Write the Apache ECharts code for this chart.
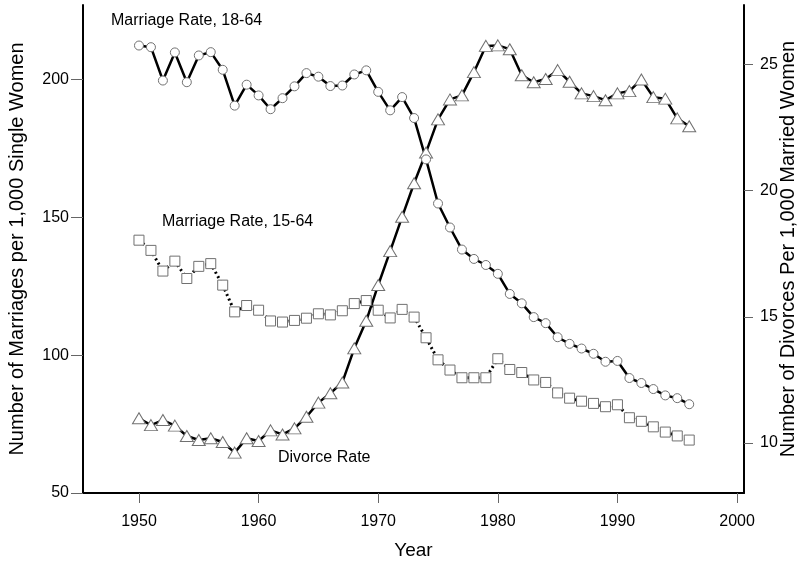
<!DOCTYPE html>
<html>
<head>
<meta charset="utf-8">
<script src="https://cdn.jsdelivr.net/npm/echarts@6/dist/echarts.min.js"></script>
<style>
  html, body { margin: 0; padding: 0; background: #fff; }
  #chart { width: 803px; height: 566px; }
</style>
</head>
<body>
<div id="chart"></div>
<script>
// years 1950 - 1996
var years = []
for (var y = 1950; y <= 1996; y++) years.push(y)

// marriages per 1,000 single women aged 18-64 (left axis)
var marriage1864 = [212.3, 211.7, 199.6, 209.8, 199.0, 208.7, 209.9, 203.5, 190.5, 198.1,
  194.2, 189.2, 193.2, 197.5, 202.3, 201.0, 197.6, 197.8, 201.8, 203.3,
  195.5, 188.8, 193.6, 186.0, 171.0, 155.0, 146.3, 138.3, 134.9, 132.7,
  129.5, 122.2, 118.8, 113.8, 111.6, 106.5, 104.1, 102.4, 100.5, 97.6,
  97.9, 91.7, 89.9, 87.7, 85.4, 84.4, 82.2]

// marriages per 1,000 single women aged 15-64 (left axis)
var marriage1564 = [141.7, 138.0, 130.5, 134.1, 127.8, 132.2, 133.2, 125.4, 115.7, 118.0,
  116.3, 112.4, 112.0, 112.6, 113.4, 115.0, 114.6, 116.1, 118.7, 119.8,
  116.3, 113.5, 116.6, 113.8, 106.3, 98.3, 94.6, 91.8, 91.8, 91.8,
  98.7, 94.8, 93.7, 91.0, 90.1, 86.3, 84.4, 83.3, 82.5, 81.3,
  82.0, 77.3, 76.0, 74.0, 72.1, 70.7, 69.2]

// divorces per 1,000 married women (right axis)
var divorceRate = [10.98, 10.71, 10.91, 10.69, 10.28, 10.12, 10.19, 10.04, 9.62, 10.19,
  10.08, 10.50, 10.34, 10.58, 11.04, 11.60, 11.97, 12.40, 13.75, 14.84,
  16.26, 17.60, 18.96, 20.29, 21.51, 22.82, 23.61, 23.77, 24.69, 25.73,
  25.75, 25.60, 24.57, 24.29, 24.42, 24.77, 24.31, 23.85, 23.74, 23.58,
  23.85, 23.94, 24.40, 23.70, 23.64, 22.86, 22.55]

var xTicks = [1950, 1960, 1970, 1980, 1990, 2000]
var leftTicks = [50, 100, 150, 200]
var rightTicks = [10, 15, 20, 25]

function pairs(vals) {
  return years.map(function (yr, i) { return [yr, vals[i]] })
}

var font = 'Liberation Sans, Arial, sans-serif'
var markerStyle = { color: '#fff', borderColor: '#707070', borderWidth: 1 }
var plain = function (v) { return String(v) }

var chart = echarts.init(document.getElementById('chart'))
chart.setOption({
  animation: false,
  textStyle: { fontFamily: font, color: '#000' },
  grid: { left: 83, right: 59, top: 5, bottom: 73, containLabel: false, outerBoundsMode: 'none' },
  xAxis: {
    type: 'value',
    min: 1945.32,
    max: 2000.58,
    name: 'Year',
    nameLocation: 'middle',
    nameGap: 48,
    nameMoveOverlap: false,
    nameTextStyle: { fontSize: 19, color: '#000', fontFamily: font },
    axisLine: { onZero: false, lineStyle: { color: '#000', width: 2 } },
    axisTick: { customValues: xTicks, length: 10, lineStyle: { color: '#666' } },
    axisLabel: { customValues: xTicks, formatter: plain, fontSize: 16, color: '#000', margin: 21, fontFamily: font },
    splitLine: { show: false }
  },
  yAxis: [{
    type: 'value',
    position: 'left',
    min: 50,
    max: 227,
    name: 'Number of Marriages per 1,000 Single Women',
    nameLocation: 'middle',
    nameGap: 56,
    nameMoveOverlap: false,
    nameTextStyle: { fontSize: 20, color: '#000', fontFamily: font },
    axisLine: { show: true, onZero: false, lineStyle: { color: '#000', width: 2 } },
    axisTick: { customValues: leftTicks, length: 12, lineStyle: { color: '#666' } },
    axisLabel: { customValues: leftTicks, formatter: plain, fontSize: 16, color: '#000', margin: 14, fontFamily: font },
    splitLine: { show: false }
  }, {
    type: 'value',
    position: 'right',
    min: 8.02,
    max: 27.35,
    name: 'Number of Divorces Per 1,000 Married Women',
    nameLocation: 'middle',
    nameGap: 34,
    nameMoveOverlap: false,
    nameTextStyle: { fontSize: 20, color: '#000', fontFamily: font },
    axisLine: { show: true, onZero: false, lineStyle: { color: '#000', width: 2 } },
    axisTick: { customValues: rightTicks, length: 9, lineStyle: { color: '#666' } },
    axisLabel: { customValues: rightTicks, formatter: plain, fontSize: 16, color: '#000', margin: 16, fontFamily: font },
    splitLine: { show: false }
  }],
  series: [{
    name: 'Marriage Rate, 15-64',
    type: 'line',
    yAxisIndex: 0,
    data: pairs(marriage1564),
    symbol: 'rect',
    symbolSize: 10,
    showAllSymbol: true,
    itemStyle: markerStyle,
    lineStyle: { color: '#000', width: 3, type: [2, 3] },
    emphasis: { disabled: true }
  }, {
    name: 'Divorce Rate',
    type: 'line',
    yAxisIndex: 1,
    data: pairs(divorceRate),
    symbol: 'triangle',
    symbolSize: [13, 11],
    showAllSymbol: true,
    itemStyle: markerStyle,
    lineStyle: { color: '#000', width: 2.5 },
    emphasis: { disabled: true }
  }, {
    name: 'Marriage Rate, 18-64',
    type: 'line',
    yAxisIndex: 0,
    data: pairs(marriage1864),
    symbol: 'circle',
    symbolSize: 9,
    showAllSymbol: true,
    itemStyle: markerStyle,
    lineStyle: { color: '#000', width: 2.5 },
    emphasis: { disabled: true }
  }],
  graphic: [
    { type: 'text', left: 111, top: 13, style: { text: 'Marriage Rate, 18-64', font: '16px ' + font, fill: '#000' } },
    { type: 'text', left: 162, top: 214, style: { text: 'Marriage Rate, 15-64', font: '16px ' + font, fill: '#000' } },
    { type: 'text', left: 278, top: 450, style: { text: 'Divorce Rate', font: '16px ' + font, fill: '#000' } }
  ]
})
</script>
</body>
</html>
